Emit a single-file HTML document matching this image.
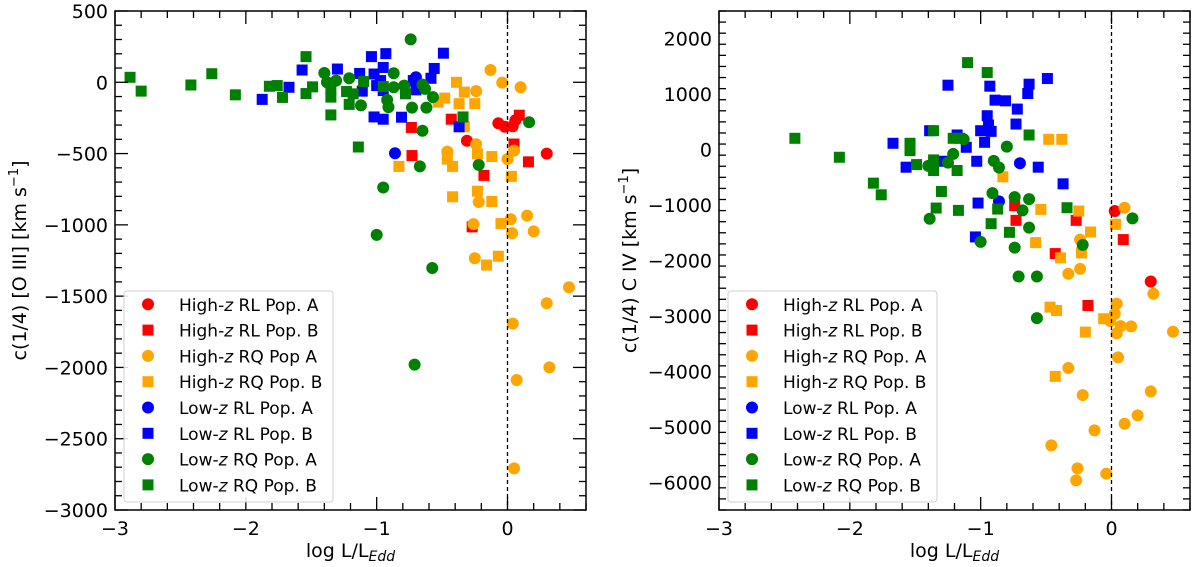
<!DOCTYPE html>
<html><head><meta charset="utf-8">
<style>
html,body{margin:0;padding:0;background:#fff;}
svg{display:block;font-family:"DejaVu Sans","Liberation Sans",sans-serif;}
</style></head>
<body>
<svg id="chart" width="1200" height="567" viewBox="0 0 1200 567" xmlns="http://www.w3.org/2000/svg"></svg>
<script>
// ---- data: left panel c(1/4) [O III]
const oiiiHighRLA = [[-0.07,-287],[-0.02,-312],[0.04,-308],[0.06,-266],[-0.31,-410],[0.30,-500]];
const oiiiHighRLB = [[-0.735,-317],[-0.43,-259],[-0.73,-514],[-0.18,-653],[-0.27,-1014],[0.05,-433],[0.16,-558],[0.09,-231]];
const oiiiHighRQA = [[-0.13,86],[-0.04,-2],[0.10,-35],[-0.24,-62],[-0.24,-435],[-0.46,-486],[0.0,-539],[0.05,-479],[-0.22,-840],[-0.26,-995],[0.025,-961],[0.035,-1058],[0.15,-935],[0.20,-1046],[-0.25,-1234],[0.47,-1438],[0.30,-1550],[0.04,-1693],[0.32,-2000],[0.07,-2088],[0.05,-2708]];
const oiiiHighRQB = [[-0.39,0],[-0.33,-69],[-0.48,-111],[-0.53,-139],[-0.37,-150],[-0.25,-150],[-0.33,-312],[-0.46,-539],[-0.42,-590],[-0.23,-502],[-0.12,-521],[-0.83,-590],[0.03,-660],[-0.23,-764],[-0.42,-803],[-0.12,-836],[-0.05,-991],[-0.07,-1220],[-0.16,-1282]];
const oiiiLowRLA = [[-0.86,-498],[-0.70,35]];
const oiiiLowRLB = [[-1.875,-120],[-1.67,-35],[-1.57,86],[-1.30,93],[-1.13,62],[-1.11,-62],[-1.04,180],[-0.93,201],[-1.02,58],[-0.95,104],[-0.97,12],[-1.00,-23],[-0.95,-58],[-0.72,12],[-0.70,-53],[-0.585,28],[-0.56,97],[-0.49,204],[-1.02,-243],[-0.95,-259],[-0.81,-245],[-0.37,-312]];
const oiiiLowRQA = [[-0.74,301],[-1.40,65],[-1.38,0],[-1.31,12],[-1.21,28],[-1.12,-162],[-0.92,-123],[-0.91,-174],[-0.87,63],[-0.87,-35],[-0.79,-23],[-0.65,-16],[-0.63,-46],[-0.57,-104],[-0.73,-178],[-0.62,-178],[-0.65,-340],[0.165,-280],[-0.67,-590],[-0.22,-579],[-0.95,-738],[-1.00,-1070],[-0.575,-1303],[-0.71,-1980]];
const oiiiLowRQB = [[-2.885,35],[-2.80,-62],[-2.42,-19],[-2.26,60],[-2.08,-88],[-1.82,-28],[-1.76,-23],[-1.72,-106],[-1.54,180],[-1.54,-79],[-1.49,-32],[-1.35,-229],[-1.35,-104],[-1.35,-46],[-1.23,-65],[-1.21,-155],[-1.18,-81],[-1.14,-454],[-1.10,5],[-0.95,-30],[-0.78,-81],[-0.34,-243]];
// ---- data: right panel c(1/4) C IV
const civHighRLA = [[0.025,-1108],[0.30,-2378]];
const civHighRLB = [[-0.74,-1012],[-0.73,-1276],[-0.43,-1875],[-0.27,-1276],[0.09,-1623],[-0.18,-2811]];
const civHighRQA = [[0.10,-1048],[-0.24,-1623],[-0.24,-2150],[-0.33,-2240],[0.32,-2600],[0.04,-2780],[0.025,-2960],[-0.01,-3092],[0.07,-3183],[0.15,-3189],[0.47,-3285],[0.04,-3315],[0.05,-3747],[-0.33,-3940],[0.30,-4361],[-0.22,-4427],[0.20,-4793],[0.10,-4944],[-0.13,-5064],[-0.46,-5334],[-0.26,-5749],[-0.04,-5845],[-0.27,-5965]];
const civHighRQB = [[-0.48,186],[-0.38,186],[-0.83,-491],[-0.54,-1078],[-0.25,-1108],[0.03,-1348],[-0.16,-1486],[-0.58,-1677],[-0.39,-1953],[-0.23,-1863],[-0.47,-2841],[-0.42,-2901],[-0.06,-3051],[-0.20,-3291],[-0.43,-4090]];
const civLowRLA = [[-0.70,-246],[-0.86,-934]];
const civLowRLB = [[-1.67,114],[-1.57,-317],[-1.39,341],[-1.28,-210],[-1.18,264],[-1.11,42],[-1.25,1162],[-1.03,-210],[-0.97,132],[-1.00,341],[-0.92,329],[-0.95,611],[-0.94,443],[-0.93,1144],[-0.89,892],[-0.81,880],[-0.72,731],[-0.73,461],[-0.64,1012],[-0.63,1180],[-0.49,1282],[-0.56,-317],[-0.37,-617],[-1.02,-964],[-1.04,-1575]];
const civLowRQA = [[-1.13,186],[-1.21,-78],[-1.40,-294],[-1.39,-1246],[-1.25,-234],[-0.80,54],[-0.90,-204],[-0.86,-323],[-0.91,-785],[-0.74,-857],[-0.68,-1096],[-0.63,-893],[-0.63,-1408],[-1.00,-1665],[-0.74,-1767],[0.16,-1240],[-0.22,-1719],[-0.71,-2288],[-0.57,-2288],[-0.57,-3039]];
const civLowRQB = [[-2.42,204],[-2.08,-138],[-1.82,-605],[-1.76,-815],[-1.54,114],[-1.54,-18],[-1.49,-270],[-1.36,341],[-1.36,-186],[-1.36,-377],[-1.30,-755],[-1.34,-1054],[-1.21,204],[-1.16,204],[-1.18,-377],[-1.17,-1096],[-1.10,1569],[-0.95,1390],[-0.87,-1072],[-0.92,-1336],[-0.78,-1492],[-0.63,264],[-0.34,-1048]];
const legendLabels = ["High-z RL Pop. A","High-z RL Pop. B","High-z RQ Pop A","High-z RQ Pop. B","Low-z RL Pop. A","Low-z RL Pop. B","Low-z RQ Pop. A","Low-z RQ Pop. B"];
const legendLabelsR = ["High-z RL Pop. A","High-z RL Pop. B","High-z RQ Pop. A","High-z RQ Pop. B","Low-z RL Pop. A","Low-z RL Pop. B","Low-z RQ Pop. A","Low-z RQ Pop. B"];
const xTicks = [-3,-2,-1,0];
const oiiiYTicks = [500,0,-500,-1000,-1500,-2000,-2500,-3000];
const civYTicks = [2000,1000,0,-1000,-2000,-3000,-4000,-5000,-6000];

const NS="http://www.w3.org/2000/svg";
const svg=document.getElementById('chart');
function mk(tag,attrs,parent){const e=document.createElementNS(NS,tag);for(const k in attrs)e.setAttribute(k,attrs[k]);(parent||svg).appendChild(e);return e;}
const colors=['#ff0000','#ff0000','#ffa500','#ffa500','#0000ff','#0000ff','#008000','#008000'];
const shapes=['c','s','c','s','c','s','c','s'];
function fmt(v){return v<0?'\u2212'+Math.abs(v):''+v;}

function panel(o){
  const g=mk('g',{});
  
  
  const xs=v=>o.L+(v-o.xmin)/(o.xmax-o.xmin)*(o.R-o.L);
  const ys=v=>o.B-(v-o.ymin)/(o.ymax-o.ymin)*(o.B-o.T);
  o.series.forEach((ser,i)=>{
    const sg=mk('g',{},g);
    
    
    ser.forEach(p=>{
      let m;
      if(shapes[i]==='c') m=mk('circle',{cx:xs(p[0]),cy:ys(p[1]),r:6,fill:colors[i]},sg);
      else m=mk('rect',{x:xs(p[0])-5.5,y:ys(p[1])-5.5,width:11,height:11,fill:colors[i]},sg);
      
      
    });
  });
  const dl=mk('line',{x1:xs(0),x2:xs(0),y1:o.T,y2:o.B,stroke:'#000','stroke-width':1.3,'stroke-dasharray':'4,3'},g);
  
  
  const tk=mk('g',{stroke:'#000','stroke-width':1.3},g);
  for(let v=-3;v<=o.xmax+1e-9;v=Math.round((v+0.2)*10)/10){
    const X=xs(v);const major=Math.abs(v-Math.round(v))<1e-6;const len=major?13:7;
    mk('line',{x1:X,x2:X,y1:o.B,y2:o.B-len},tk);
    mk('line',{x1:X,x2:X,y1:o.T,y2:o.T+len},tk);
  }
  for(let v=o.ymin;v<=o.ymax+1e-9;v+=o.yminor){
    const Y=ys(v);const major=(v%o.ymajor)===0;const len=major?13:7;
    mk('line',{x1:o.L,x2:o.L+len,y1:Y,y2:Y},tk);
    mk('line',{x1:o.R,x2:o.R-len,y1:Y,y2:Y},tk);
  }
  const fr=mk('rect',{x:o.L,y:o.T,width:o.R-o.L,height:o.B-o.T,fill:'none',stroke:'#000','stroke-width':1.5},g);
  
  
  xTicks.forEach(v=>{
    const t=mk('text',{x:xs(v),y:o.B+25,'text-anchor':'middle','font-size':19},g);t.textContent=fmt(v);
    
    
  });
  o.yticks.forEach(v=>{
    const t=mk('text',{x:o.L-7,y:ys(v)+7,'text-anchor':'end','font-size':19},g);t.textContent=fmt(v);
    
    
  });
  const xl=mk('text',{x:(o.L+o.R)/2,y:557,'text-anchor':'middle','font-size':19},g);
  xl.innerHTML='log  L/L<tspan font-size="14" font-style="italic" dy="4">Edd</tspan>';
  
  
  const yl=mk('text',{x:0,y:0,'text-anchor':'middle','font-size':19,transform:`translate(${o.ylx},${(o.T+o.B)/2}) rotate(-90)`},g);
  yl.innerHTML=o.ylabel;
  
  
  const lg=mk('g',{},g);
  
  
  mk('rect',{x:o.lgx,y:291,width:o.lgw,height:211,rx:3,fill:'#fff','fill-opacity':0.85,stroke:'#d0d0d0','stroke-width':1},lg);
  o.labels.forEach((lab,i)=>{
    const y=304.3+i*25.8;const mx=o.lgx+24;
    let m;
    if(shapes[i]==='c') m=mk('circle',{cx:mx,cy:y,r:6,fill:colors[i]},lg);
    else m=mk('rect',{x:mx-5.5,y:y-5.5,width:11,height:11,fill:colors[i]},lg);
    
    
    const t=mk('text',{x:o.lgx+55,y:y+6.5,'font-size':17},lg);
    const parts=lab.split('-z');
    t.innerHTML=parts[0]+'-<tspan font-style="italic">z</tspan>'+parts[1];
    
    
  });
}
panel({name:'oiii-panel',L:115,R:586,T:11,B:510,xmin:-3,xmax:0.6,ymin:-3000,ymax:500,ymajor:500,yminor:100,
  yticks:oiiiYTicks,series:[oiiiHighRLA,oiiiHighRLB,oiiiHighRQA,oiiiHighRQB,oiiiLowRLA,oiiiLowRLB,oiiiLowRQA,oiiiLowRQB],
  ylabel:'c(1/4) [O III] [km s<tspan font-size="13" dy="-8">−1</tspan><tspan dy="8">]</tspan>',ylx:26,lgx:124,lgw:209,labels:legendLabels});
panel({name:'civ-panel',L:719,R:1190,T:11,B:510,xmin:-3,xmax:0.6,ymin:-6500,ymax:2500,ymajor:1000,yminor:200,
  yticks:civYTicks,series:[civHighRLA,civHighRLB,civHighRQA,civHighRQB,civLowRLA,civLowRLB,civLowRQA,civLowRQB],
  ylabel:'c(1/4) C IV [km s<tspan font-size="13" dy="-8">−1</tspan><tspan dy="8">]</tspan>',ylx:636,lgx:728,lgw:209,labels:legendLabelsR});
</script>
</body></html>
